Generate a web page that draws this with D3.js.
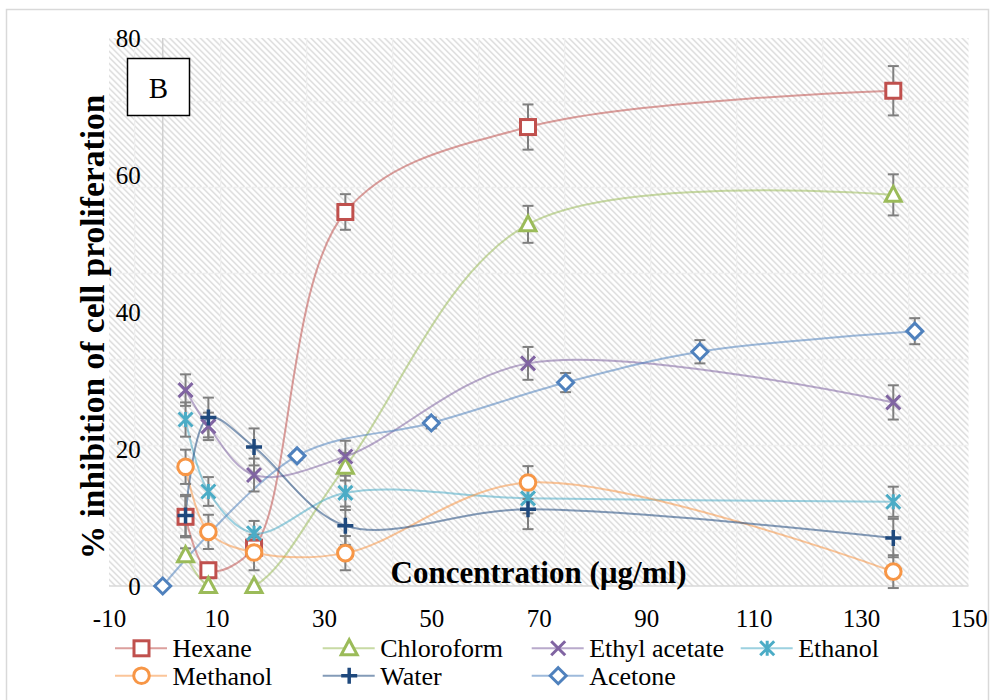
<!DOCTYPE html>
<html><head><meta charset="utf-8">
<script src="https://cdn.jsdelivr.net/npm/d3@7"></script>
<style>
body{margin:0;background:#fff;}
svg{display:block;font-family:'Liberation Serif','Times New Roman',serif;}
</style></head>
<body><svg id="chart" width="995" height="700"></svg>
<script>
// ---- data ----
const conc = [4.25, 8.5, 17, 34, 68, 136];
const acetoneConc = [0, 25, 50, 75, 100, 140];
const hexane = [10.1, 2.3, 5.6, 54.6, 67.0, 72.3];
const hexaneErr = [3.0, 1.0, 1.5, 2.6, 3.3, 3.6];
const chloroform = [4.5, 0, 0, 17.4, 52.8, 57.1];
const chloroformErr = [1.0, 0, 0, 2.0, 2.7, 3.0];
const ethylAcetate = [28.6, 23.3, 16.2, 18.9, 32.5, 26.8];
const ethylAcetateErr = [2.3, 2.0, 2.4, 2.3, 2.4, 2.5];
const ethanol = [24.3, 13.8, 7.7, 13.6, 12.8, 12.3];
const ethanolErr = [2.5, 2.1, 1.8, 2.5, 2.2, 2.2];
const methanol = [17.4, 7.9, 4.9, 4.8, 15.1, 2.1];
const methanolErr = [2.5, 2.5, 2.6, 2.5, 2.4, 2.4];
const water = [10.3, 24.6, 20.3, 8.8, 11.2, 7.0];
const waterErr = [3.0, 2.9, 2.7, 2.8, 2.9, 2.8];
const acetone = [0, 19.0, 23.8, 29.7, 34.2, 37.2];
const acetoneErr = [0, 0.6, 0.8, 1.4, 1.7, 1.9];
const xTicks = [-10, 10, 30, 50, 70, 90, 110, 130, 150];
const yTicks = [0, 20, 40, 60, 80];
const seriesNames = ["Hexane","Chloroform","Ethyl acetate","Ethanol","Methanol","Water","Acetone"];
const seriesColors = ["#C0504D","#9BBB59","#8064A2","#4BACC6","#F79646","#1F497D","#4F81BD"];
const seriesMarkers = ["square","triangle","x","star","circle","plus","diamond"];

const series = [
  {x: conc, y: hexane, e: hexaneErr},
  {x: conc, y: chloroform, e: chloroformErr},
  {x: conc, y: ethylAcetate, e: ethylAcetateErr},
  {x: conc, y: ethanol, e: ethanolErr},
  {x: conc, y: methanol, e: methanolErr},
  {x: conc, y: water, e: waterErr},
  {x: acetoneConc, y: acetone, e: acetoneErr}
].map((s,i)=>({...s, name: seriesNames[i], color: seriesColors[i], marker: seriesMarkers[i]}));

// ---- layout ----
const FONT = "'Liberation Serif','Times New Roman',serif";
const svg = d3.select("#chart");
const P = {left:109, right:968.5, top:38, bottom:586};
const x = d3.scaleLinear().domain([-10,150]).range([P.left,P.right]);
const y = d3.scaleLinear().domain([0,80]).range([P.bottom,P.top]);

// outer border
svg.append("rect").attr("x",6.5).attr("y",9.5).attr("width",982).attr("height",720)
  .attr("fill","#fff").attr("stroke","#d9d9d9").attr("stroke-width",1.5);

// pattern
const defs = svg.append("defs");
defs.append("clipPath").attr("id","plotclip").append("rect")
  .attr("x",P.left).attr("y",P.top).attr("width",P.right-P.left).attr("height",P.bottom-P.top);
const cell = 86;
const pat = defs.append("pattern").attr("id","hatch").attr("patternUnits","userSpaceOnUse")
  .attr("width",cell).attr("height",cell)
  .attr("patternTransform","translate(220,100.7)");
pat.append("rect").attr("width",cell).attr("height",cell).attr("fill","#fff");
const n = 14, step = cell/n;
for (let k=-n; k<=2*n; k++){
  pat.append("line").attr("x1",k*step).attr("y1",0).attr("x2",k*step+cell).attr("y2",cell)
    .attr("stroke","#dadada").attr("stroke-width",1.4);
}
pat.append("line").attr("x1",0).attr("y1",0.5).attr("x2",cell).attr("y2",0.5).attr("stroke","#eeeeee").attr("stroke-width",1.5);
pat.append("line").attr("x1",0.5).attr("y1",0).attr("x2",0.5).attr("y2",cell).attr("stroke","#eeeeee").attr("stroke-width",1.5);

svg.append("rect").attr("x",P.left).attr("y",P.top).attr("width",P.right-P.left).attr("height",P.bottom-P.top)
  .attr("fill","url(#hatch)");

// axis lines (cross at 0)
svg.append("line").attr("x1",x(0)).attr("x2",x(0)).attr("y1",P.top).attr("y2",P.bottom)
  .attr("stroke","#d0d0d0").attr("stroke-width",1.5);
svg.append("line").attr("x1",P.left).attr("x2",P.right).attr("y1",y(0)).attr("y2",y(0))
  .attr("stroke","#d9d9d9").attr("stroke-width",1.5);

// axes
const xAxis = svg.append("g").attr("transform",`translate(0,${y(0)})`)
  .call(d3.axisBottom(x).tickValues(xTicks).tickSize(0).tickPadding(23).tickFormat(d=>String(d)));
xAxis.attr("font-family",FONT).attr("font-size",25);
xAxis.select(".domain").remove();
xAxis.selectAll("text").attr("fill","#000").style("font-family",FONT);

const yAxis = svg.append("g").attr("transform",`translate(${x(0)},0)`)
  .call(d3.axisLeft(y).tickValues(yTicks).tickSize(0).tickPadding(22).tickFormat(d=>String(d)));
yAxis.attr("font-family",FONT).attr("font-size",25);
yAxis.select(".domain").remove();
yAxis.selectAll("text").attr("fill","#000").style("font-family",FONT);

// axis titles
svg.append("text").attr("transform","translate(104,327) rotate(-90)")
  .attr("text-anchor","middle").attr("font-weight","bold").attr("font-size",33.5).text("% inhibition of cell proliferation");
svg.append("text").attr("x",538.5).attr("y",583).attr("text-anchor","middle")
  .attr("font-weight","bold").attr("font-size",31).text("Concentration (µg/ml)");

// B box
svg.append("rect").attr("x",127.5).attr("y",58.5).attr("width",62).attr("height",57)
  .attr("fill","#fff").attr("stroke","#000").attr("stroke-width",1.5);
svg.append("text").attr("x",158.5).attr("y",98).attr("text-anchor","middle").attr("font-size",29).text("B");

// lines
const line = d3.line().x(d=>x(d[0])).y(d=>y(d[1])).curve(d3.curveCatmullRom.alpha(0.5));
const gLines = svg.append("g").attr("clip-path","url(#plotclip)");
series.forEach(s=>{
  gLines.append("path").datum(s.x.map((v,i)=>[v,s.y[i]]))
    .attr("d",line).attr("fill","none").attr("stroke",s.color).attr("stroke-opacity",0.55).attr("stroke-width",2);
});

// error bars
const gErr = svg.append("g").attr("stroke","#7f7f7f").attr("stroke-width",2);
series.forEach(s=>{
  s.x.forEach((xv,i)=>{
    const e = s.e[i]; if(!e) return;
    const cx = x(xv), y1 = y(s.y[i]+e), y2 = y(s.y[i]-e);
    gErr.append("line").attr("x1",cx).attr("x2",cx).attr("y1",y1).attr("y2",y2);
    gErr.append("line").attr("x1",cx-5.5).attr("x2",cx+5.5).attr("y1",y1).attr("y2",y1);
    gErr.append("line").attr("x1",cx-5.5).attr("x2",cx+5.5).attr("y1",y2).attr("y2",y2);
  });
});

// markers
function drawMarker(g, type, cx, cy, color){
  const sw = 3;
  switch(type){
    case "square":
      g.append("rect").attr("x",cx-7.5).attr("y",cy-7.5).attr("width",15).attr("height",15)
        .attr("fill","#fff").attr("stroke",color).attr("stroke-width",sw); break;
    case "triangle":
      g.append("path").attr("d",`M${cx},${cy-8.5}L${cx+8},${cy+6.5}L${cx-8},${cy+6.5}Z`)
        .attr("fill","#fff").attr("stroke",color).attr("stroke-width",sw).attr("stroke-linejoin","miter"); break;
    case "x":
      g.append("path").attr("d",`M${cx-7},${cy-7}L${cx+7},${cy+7}M${cx-7},${cy+7}L${cx+7},${cy-7}`)
        .attr("stroke",color).attr("stroke-width",sw).attr("fill","none"); break;
    case "star":
      g.append("path").attr("d",`M${cx-7},${cy-7}L${cx+7},${cy+7}M${cx-7},${cy+7}L${cx+7},${cy-7}M${cx},${cy-7.5}L${cx},${cy+7.5}`)
        .attr("stroke",color).attr("stroke-width",sw).attr("fill","none"); break;
    case "circle":
      g.append("circle").attr("cx",cx).attr("cy",cy).attr("r",7.8)
        .attr("fill","#fff").attr("stroke",color).attr("stroke-width",sw); break;
    case "plus":
      g.append("path").attr("d",`M${cx-8},${cy}L${cx+8},${cy}M${cx},${cy-8}L${cx},${cy+8}`)
        .attr("stroke",color).attr("stroke-width",3.5).attr("fill","none"); break;
    case "diamond":
      g.append("path").attr("d",`M${cx},${cy-8}L${cx+8},${cy}L${cx},${cy+8}L${cx-8},${cy}Z`)
        .attr("fill","#fff").attr("stroke",color).attr("stroke-width",sw); break;
  }
}
const gMark = svg.append("g");
series.forEach(s=>{
  s.x.forEach((xv,i)=> drawMarker(gMark, s.marker, x(xv), y(s.y[i]), s.color));
});

// legend
const legCols = [115, 322.7, 531.7, 740.7];
const legRows = [648.3, 675.7];
const gLeg = svg.append("g").attr("font-family",FONT);
series.forEach((s,i)=>{
  const col = legCols[i<4 ? i : i-4], row = legRows[i<4?0:1];
  gLeg.append("line").attr("x1",col).attr("x2",col+52).attr("y1",row).attr("y2",row)
    .attr("stroke",s.color).attr("stroke-opacity",0.55).attr("stroke-width",2);
  drawMarker(gLeg, s.marker, col+26.5, row, s.color);
  gLeg.append("text").attr("x",col+57.5).attr("y",row+9).attr("font-size",26).style("font-family",FONT).text(s.name);
});
</script></body></html>
